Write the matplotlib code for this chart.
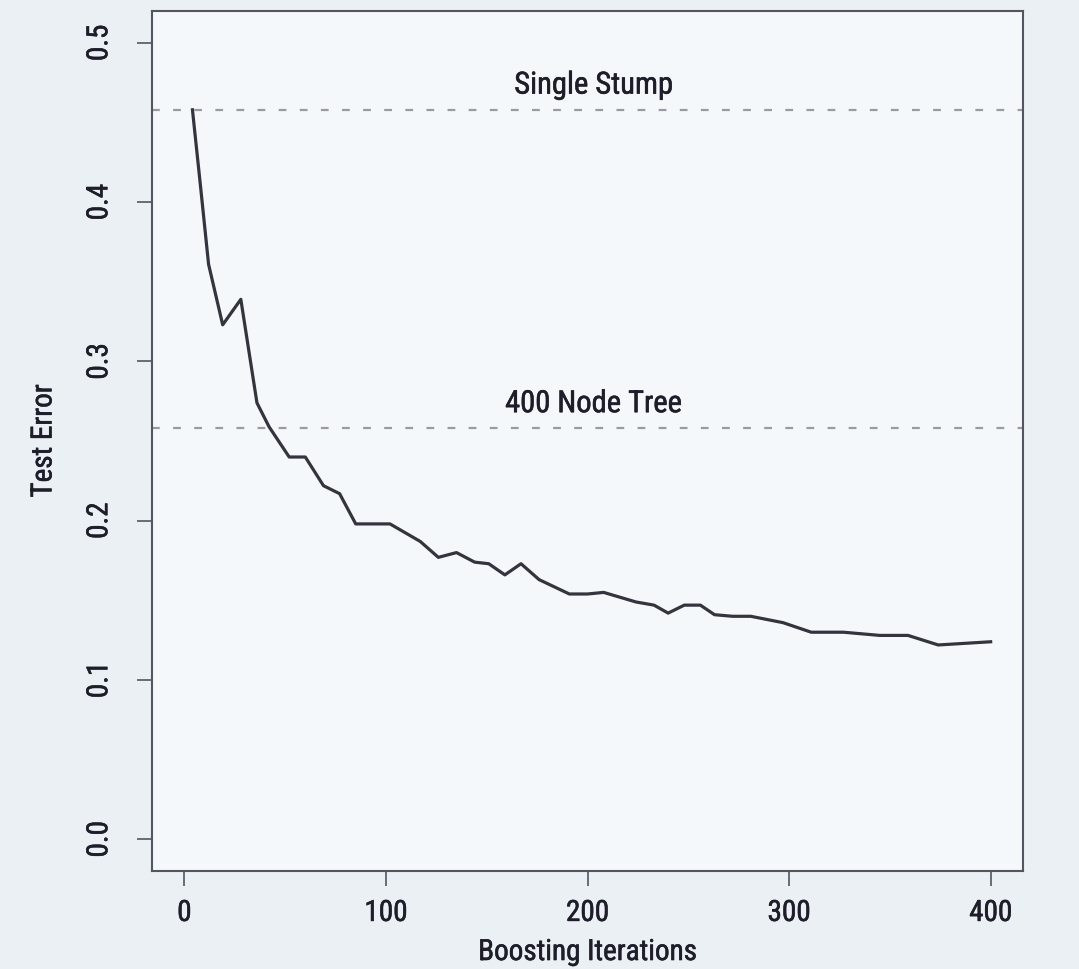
import numpy as np
import matplotlib
matplotlib.use('Agg')
import matplotlib.pyplot as plt
import matplotlib.patheffects as pe

plt.rcParams['font.family'] = ['Roboto Condensed', 'Liberation Sans Narrow',
                               'Liberation Sans', 'DejaVu Sans']

# boosting test error curve
iters = [4, 8, 12, 19, 28, 36, 42, 52, 60, 69, 77, 85, 102, 117, 126, 135, 144, 151,
         159, 167, 176, 191, 200, 208, 224, 233, 240, 248, 256, 263, 272, 281, 297,
         311, 327, 345, 359, 374, 387, 400]
test_err = [0.458, 0.410, 0.361, 0.323, 0.339, 0.274, 0.259, 0.240, 0.240, 0.222,
            0.217, 0.198, 0.198, 0.187, 0.177, 0.180, 0.174, 0.173, 0.166, 0.173,
            0.163, 0.154, 0.154, 0.155, 0.149, 0.147, 0.142, 0.147, 0.147, 0.141,
            0.140, 0.140, 0.136, 0.130, 0.130, 0.128, 0.128, 0.122, 0.123, 0.124]

ref_names = ['Single Stump', '400 Node Tree']
ref_err = [0.458, 0.258]

x_ticks = [0, 100, 200, 300, 400]
y_ticks = [0.0, 0.1, 0.2, 0.3, 0.4, 0.5]

ink = '#1e1e2a'
bold = [pe.withStroke(linewidth=0.4, foreground=ink)]

fig = plt.figure(figsize=(10.79, 9.69), dpi=100, facecolor='#ebf0f4')
ax = fig.add_axes([0.141, 0.101, 0.807, 0.8876])
ax.set_facecolor('#f5f8fa')

ax.plot(iters, test_err, color='#34343e', linewidth=2.3)

for name, val in zip(ref_names, ref_err):
    ax.axhline(val, color='#9a9aa6', linestyle=(0, (3.5, 6)), linewidth=1.6)
    ax.text(203, val + 0.0155, name, ha='center', va='center',
            fontsize=22, color=ink, path_effects=bold)

ax.set_xlim(-16, 416)
ax.set_ylim(-0.02, 0.52)
ax.set_xticks(x_ticks)
ax.set_xticklabels([str(v) for v in x_ticks])
ax.set_yticks(y_ticks)
ax.set_yticklabels([f'{v:.1f}' for v in y_ticks], rotation=90, va='center')
for lab in ax.get_xticklabels() + ax.get_yticklabels():
    lab.set_path_effects(bold)

ax.tick_params(axis='both', direction='out', length=11, width=1.2,
               colors='#55555f', labelcolor=ink, labelsize=21)
ax.tick_params(axis='x', pad=9)
ax.tick_params(axis='y', pad=17)
for s in ax.spines.values():
    s.set_color('#55555f')
    s.set_linewidth(1.5)

ax.set_xlabel('Boosting Iterations', fontsize=21, color=ink, labelpad=8,
              path_effects=bold)
ax.set_ylabel('Test Error', fontsize=21, color=ink, labelpad=20,
              path_effects=bold)

fig.savefig('out.png', dpi=100, facecolor=fig.get_facecolor())
